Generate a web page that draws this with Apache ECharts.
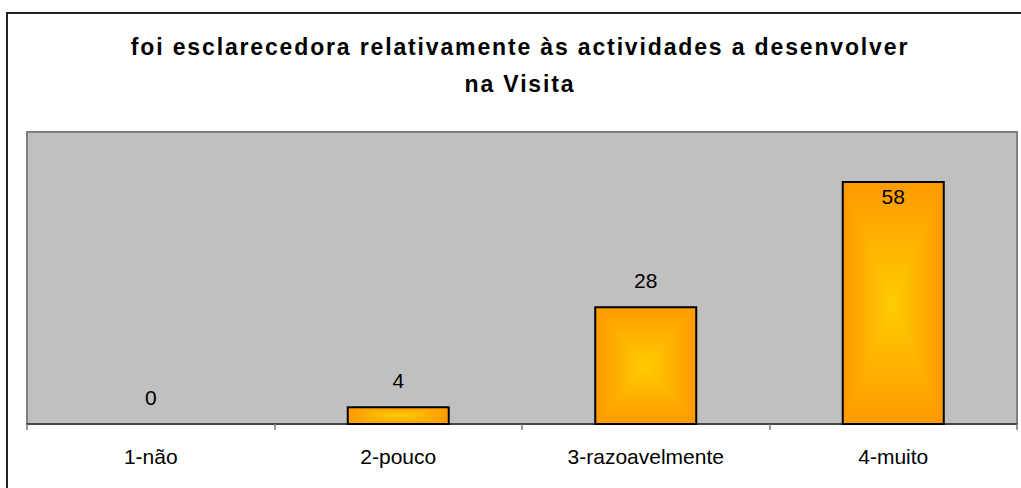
<!DOCTYPE html>
<html>
<head>
<meta charset="utf-8">
<script src="https://cdn.jsdelivr.net/npm/echarts@6/dist/echarts.min.js"></script>
<style>
  html, body { margin: 0; padding: 0; background: #fff; }
  #chart { width: 1021px; height: 488px; }
</style>
</head>
<body>
<div id="chart"></div>
<script>
// ---- data ----
const titleLines = ['foi esclarecedora relativamente às actividades a desenvolver', 'na Visita'];
const categories = ['1-não', '2-pouco', '3-razoavelmente', '4-muito'];
const values = [0, 4, 28, 58];
const yMax = 70;

// ---- styling ----
const FONT = '"Liberation Sans", Arial, Helvetica, sans-serif';
const EDGE = '#FF9900';
const CORE = '#FFCC00';
const BAR_W = 101;
const GRID = { left: 27, right: 4, top: 132, bottom: 64 };
const TITLE_SPACING = 1.85;

function grad(x0, y0, x1, y1, a, b, c) {
  const stops = c
    ? [{ offset: 0, color: a }, { offset: 0.5, color: b }, { offset: 1, color: c }]
    : [{ offset: 0, color: a }, { offset: 1, color: b }];
  return new echarts.graphic.LinearGradient(x0, y0, x1, y1, stops);
}

// Bars with a rectangular centre glow: side fade on the whole body,
// top/bottom wedges fading vertically towards the middle.
function renderBar(params, api) {
  const v = api.value(1);
  const base = api.coord([api.value(0), 0]);
  const top = api.coord([api.value(0), v]);
  const cx = base[0];
  const x0 = cx - BAR_W / 2, x1 = cx + BAR_W / 2;
  const y0 = top[1], y1 = base[1];
  const h = y1 - y0;
  const cy = (y0 + y1) / 2;
  const children = [];
  if (h > 0.5) {
    children.push({
      type: 'rect',
      shape: { x: x0, y: y0, width: BAR_W, height: h },
      style: { fill: grad(0, 0, 1, 0, EDGE, CORE, EDGE) }
    });
    children.push({
      type: 'polygon',
      shape: { points: [[x0, y0], [x1, y0], [cx, cy]] },
      style: { fill: grad(0, 0, 0, 1, EDGE, CORE) }
    });
    children.push({
      type: 'polygon',
      shape: { points: [[x0, y1], [x1, y1], [cx, cy]] },
      style: { fill: grad(0, 1, 0, 0, EDGE, CORE) }
    });
    children.push({
      type: 'rect',
      shape: { x: x0, y: y0, width: BAR_W, height: h },
      style: { fill: 'none', stroke: '#000', lineWidth: 2 }
    });
  }
  // value label: above the bar, or just inside its top when the bar is tall
  const inside = y0 - 55 < GRID.top;
  children.push({
    type: 'text',
    style: {
      text: String(v),
      x: cx,
      y: inside ? y0 + 14 : y0 - 27,
      align: 'center',
      verticalAlign: 'middle',
      fontSize: 21,
      fontFamily: FONT,
      fill: '#000'
    }
  });
  return { type: 'group', children };
}

const chart = echarts.init(document.getElementById('chart'), null, { renderer: 'svg' });

chart.setOption({
  animation: false,
  backgroundColor: '#fff',
  title: {
    text: titleLines.join('\n'),
    left: 515,
    top: 23,
    textAlign: 'center',
    textStyle: {
      fontFamily: FONT,
      fontSize: 23,
      fontWeight: 'bold',
      color: '#000',
      lineHeight: 37
    }
  },
  graphic: [{
    type: 'rect',
    shape: { x: 7, y: 13, width: 1100, height: 600 },
    style: { fill: 'none', stroke: '#222', lineWidth: 2 },
    silent: true,
    z: -1
  }],
  grid: {
    left: GRID.left, right: GRID.right, top: GRID.top, bottom: GRID.bottom,
    show: true,
    backgroundColor: '#C0C0C0',
    borderColor: '#808080',
    borderWidth: 2
  },
  xAxis: {
    type: 'category',
    data: categories,
    boundaryGap: true,
    axisLine: { lineStyle: { color: '#333', width: 1.5 } },
    axisTick: { show: true, length: 6, lineStyle: { color: '#777', width: 1.5 } },
    axisLabel: { color: '#000', fontSize: 21, fontFamily: FONT, margin: 22 },
    splitLine: { show: false }
  },
  yAxis: {
    type: 'value',
    min: 0,
    max: yMax,
    show: false,
    splitLine: { show: false }
  },
  series: [{
    type: 'custom',
    renderItem: renderBar,
    data: categories.map((c, i) => [i, values[i]]),
    encode: { x: 0, y: 1 },
    silent: true
  }]
});

// widen the title's letter spacing
function spaceTitle() {
  document.querySelectorAll('#chart text').forEach(t => {
    if (titleLines.includes(t.textContent)) {
      t.setAttribute('letter-spacing', TITLE_SPACING);
    }
  });
}
chart.on('finished', spaceTitle);
setTimeout(spaceTitle, 50);
</script>
</body>
</html>
